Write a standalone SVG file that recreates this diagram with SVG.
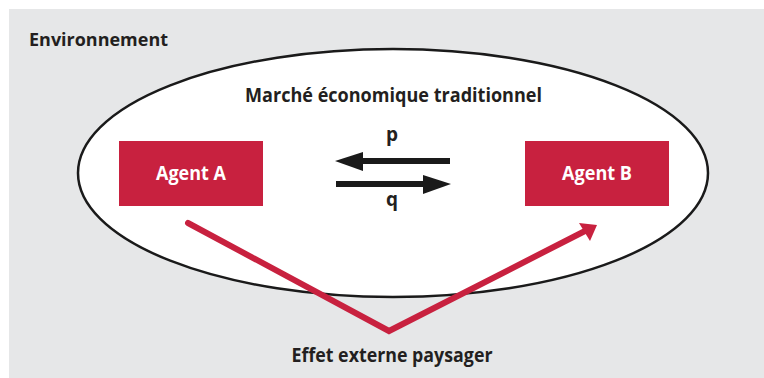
<svg xmlns="http://www.w3.org/2000/svg" width="764" height="378" viewBox="0 0 764 378">
<style>
.t{font-family:"Open Sans","Liberation Sans",sans-serif;font-weight:bold;fill:#231F20}
.w{font-family:"Open Sans","Liberation Sans",sans-serif;font-weight:bold;fill:#FFFFFF;font-size:19px}
.box{fill:#C8213F}
.blk{stroke:#1A1A1A;stroke-width:6;fill:none}
.red{stroke:#C8213F;stroke-width:6;fill:none;stroke-linecap:round;stroke-linejoin:miter}
</style>
<rect x="9" y="9" width="755" height="369" fill="#E6E7E8"/>
<text class="t" x="29" y="46" font-size="18" textLength="139" lengthAdjust="spacingAndGlyphs">Environnement</text>
<g id="market">
<ellipse cx="393" cy="173" rx="315" ry="124" fill="#FFFFFF" stroke="#1A1A1A" stroke-width="2.5"/>
<text class="t" x="245" y="102" font-size="19" textLength="297" lengthAdjust="spacingAndGlyphs">Marché économique traditionnel</text>
</g>
<g id="agentA">
<rect class="box" x="119" y="141" width="144" height="65"/>
<text class="w" x="191" y="180" text-anchor="middle" textLength="70" lengthAdjust="spacingAndGlyphs">Agent A</text>
</g>
<g id="agentB">
<rect class="box" x="525" y="141" width="144" height="65"/>
<text class="w" x="597" y="180" text-anchor="middle" textLength="70" lengthAdjust="spacingAndGlyphs">Agent B</text>
</g>
<g id="effet">
<text class="t" x="392" y="362" font-size="19" text-anchor="middle" textLength="201" lengthAdjust="spacingAndGlyphs">Effet externe paysager</text>
</g>
<g id="connectors">
<line class="blk" x1="450" y1="161" x2="355" y2="161"/>
<polygon points="335,161 363,152 363,171" fill="#1A1A1A"/>
<text class="t" x="392" y="141" font-size="19" text-anchor="middle">p</text>
<line class="blk" x1="336" y1="184" x2="432" y2="184"/>
<polygon points="451,184 423,175 423,194" fill="#1A1A1A"/>
<text class="t" x="392" y="206" font-size="19" text-anchor="middle">q</text>
<polyline class="red" points="188,223 389,331 585,231"/>
<polygon points="597,225 579,223 590,241" fill="#C8213F"/>
</g>
</svg>
